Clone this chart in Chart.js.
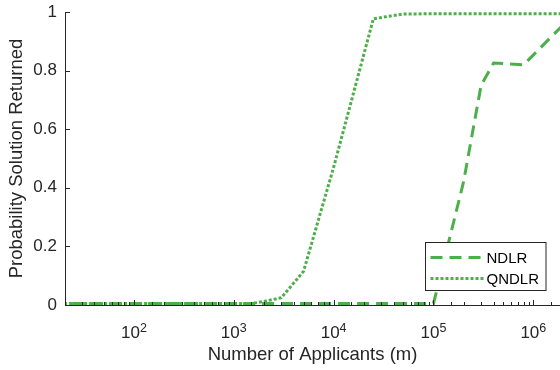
<!DOCTYPE html>
<html>
<head>
<meta charset="utf-8">
<script src="https://cdn.jsdelivr.net/npm/chart.js@4"></script>
<style>
  body { margin: 0; background: #fff; overflow: hidden; }
  #wrap { width: 560px; height: 370px; }
</style>
</head>
<body>
<div id="wrap"><canvas id="probChart" width="560" height="370"></canvas></div>
<script>
// number of applicants (m) and probability a solution is returned
const ndlrM = [10, 100, 1000, 1e4, 5e4, 1e5, 2e5, 3e5, 4e5, 8e5, 2e6];
const ndlrP = [0.005, 0.005, 0.005, 0.005, 0.005, 0.005, 0.42, 0.75, 0.826, 0.82, 0.957];

const qndlrM = [10, 100, 1000, 1500, 2000, 3000, 5000, 1e4, 2.5e4, 5e4, 1e5, 2e5, 5e5, 1e6, 2e6];
const qndlrP = [0.005, 0.005, 0.005, 0.005, 0.012, 0.025, 0.115, 0.47, 0.977, 0.993, 0.994, 0.994, 0.994, 0.994, 0.994];

const seriesNames = ['NDLR', 'QNDLR'];
const xTickValues = [1e2, 1e3, 1e4, 1e5, 1e6];
const xTickExponents = ['2', '3', '4', '5', '6'];
const yTickValues = [0, 0.2, 0.4, 0.6, 0.8, 1];
const yTickLabels = ['0', '0.2', '0.4', '0.6', '0.8', '1'];

const green = '#4daf4a';
const axisColor = '#262626';
const fontFamily = '"Liberation Sans", Arial, Helvetica, sans-serif';

const toPoints = (xs, ys) => xs.map((x, i) => ({ x: x, y: ys[i] }));

// inward tick marks, power-of-ten labels and the boxed legend (MATLAB look)
const matlabAxes = {
  id: 'matlabAxes',
  afterDraw(chart) {
    const ctx = chart.ctx;
    const xs = chart.scales.x;
    const ys = chart.scales.y;
    const area = chart.chartArea;
    ctx.save();
    ctx.strokeStyle = axisColor;
    ctx.lineWidth = 1;

    yTickValues.forEach(v => {
      const y = Math.round(ys.getPixelForValue(v)) + 0.5;
      ctx.beginPath();
      ctx.moveTo(area.left, y);
      ctx.lineTo(area.left + 5, y);
      ctx.stroke();
    });

    xs.ticks.forEach(t => {
      if (t.value < xs.min || t.value > xs.max) return;
      const x = Math.round(xs.getPixelForValue(t.value)) + 0.5;
      const major = xTickValues.includes(t.value);
      ctx.beginPath();
      ctx.moveTo(x, area.bottom);
      ctx.lineTo(x, area.bottom - (major ? 5 : 3));
      ctx.stroke();
    });

    // x tick labels: 10 with raised exponent
    ctx.fillStyle = axisColor;
    ctx.textBaseline = 'alphabetic';
    ctx.textAlign = 'left';
    xTickValues.forEach((v, i) => {
      const x = xs.getPixelForValue(v);
      ctx.font = '17px ' + fontFamily;
      const wBase = ctx.measureText('10').width;
      ctx.font = '12.5px ' + fontFamily;
      const wExp = ctx.measureText(xTickExponents[i]).width;
      const x0 = x - (wBase + wExp) / 2;
      ctx.font = '17px ' + fontFamily;
      ctx.fillText('10', x0, 338);
      ctx.font = '12.5px ' + fontFamily;
      ctx.fillText(xTickExponents[i], x0 + wBase, 332);
    });

    // legend
    const lx = 425.5, ly = 242.5, lw = 120.5, lh = 48;
    ctx.fillStyle = '#fff';
    ctx.fillRect(lx, ly, lw, lh);
    ctx.strokeStyle = axisColor;
    ctx.strokeRect(lx, ly, lw, lh);
    chart.data.datasets.forEach((ds, i) => {
      const y = ly + 15 + i * 21;
      ctx.save();
      ctx.strokeStyle = ds.borderColor;
      ctx.lineWidth = ds.borderWidth;
      ctx.setLineDash(ds.borderDash);
      ctx.beginPath();
      ctx.moveTo(lx + 5, y);
      ctx.lineTo(lx + 58, y);
      ctx.stroke();
      ctx.restore();
      ctx.fillStyle = '#000';
      ctx.font = '15px ' + fontFamily;
      ctx.textBaseline = 'middle';
      ctx.fillText(ds.label, lx + 61, y + 1);
    });
    ctx.restore();
  }
};

new Chart(document.getElementById('probChart'), {
  type: 'line',
  data: {
    datasets: [
      {
        label: seriesNames[0],
        data: toPoints(ndlrM, ndlrP),
        borderColor: green,
        borderWidth: 3,
        borderDash: [12, 7],
        pointRadius: 0,
        tension: 0,
        fill: false
      },
      {
        label: seriesNames[1],
        data: toPoints(qndlrM, qndlrP),
        borderColor: green,
        borderWidth: 3,
        borderDash: [3, 2],
        pointRadius: 0,
        tension: 0,
        fill: false
      }
    ]
  },
  options: {
    responsive: false,
    animation: false,
    layout: { padding: { left: 0, right: 0, top: 12, bottom: 0 } },
    plugins: {
      legend: { display: false },
      tooltip: { enabled: false }
    },
    scales: {
      x: {
        type: 'logarithmic',
        min: 20.4,
        max: 1.85e6,
        afterFit: s => { s.height = 65; s.paddingLeft = 0; s.paddingRight = 0; },
        grid: { display: false, drawTicks: false },
        border: { display: true, color: axisColor, width: 1 },
        ticks: { display: false, autoSkip: false },
        title: {
          display: true,
          text: 'Number of Applicants (m)',
          color: axisColor,
          font: { family: fontFamily, size: 18.5 },
          padding: { top: 0, bottom: 4 }
        }
      },
      y: {
        min: 0,
        max: 1,
        afterFit: s => { s.width = 65; s.paddingTop = 0; s.paddingBottom = 0; },
        afterBuildTicks: s => { s.ticks = yTickValues.map(v => ({ value: v })); },
        grid: { display: false, drawTicks: false },
        border: { display: true, color: axisColor, width: 1 },
        ticks: {
          padding: 8,
          color: axisColor,
          font: { family: fontFamily, size: 17 },
          callback: (v) => yTickLabels[yTickValues.indexOf(v)]
        },
        title: {
          display: true,
          text: 'Probability Solution Returned',
          color: axisColor,
          font: { family: fontFamily, size: 18.5 },
          padding: { top: 6, bottom: 0 }
        }
      }
    }
  },
  plugins: [matlabAxes]
});
</script>
</body>
</html>
